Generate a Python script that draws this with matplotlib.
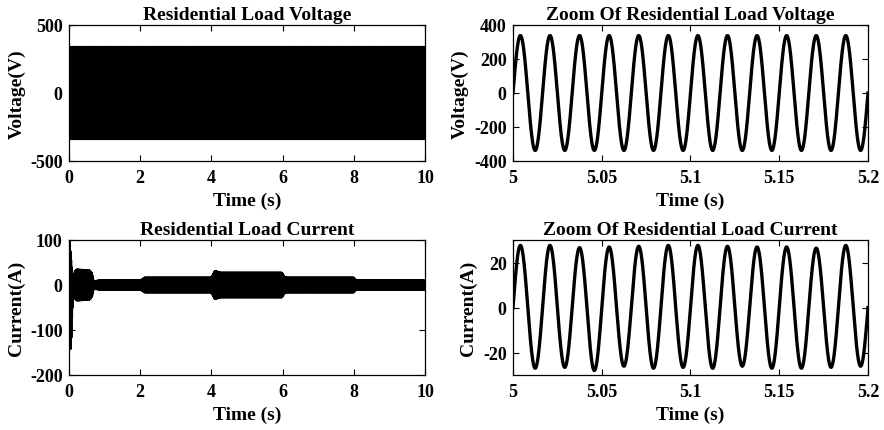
import numpy as np
import matplotlib
matplotlib.use('Agg')
import matplotlib.pyplot as plt

plt.rcParams['font.family'] = ['Liberation Serif', 'DejaVu Serif']
plt.rcParams['font.weight'] = 'bold'
plt.rcParams['axes.unicode_minus'] = False

# grid frequency of the load waveforms
f_grid = 60.0

# full run (0-10 s): envelope of the voltage
volt_env_t = [0.0, 10.0]
volt_env = [339.0, 339.0]

# full run (0-10 s): envelope of the current, positive and negative peaks
cur_env_t = [0.0, 0.02, 0.05, 0.08, 0.12, 0.17, 0.22, 0.4, 0.58, 0.64, 0.7, 0.78,
             0.9, 2.02, 2.12, 4.0, 4.1, 4.25, 5.98, 6.05, 6.12, 8.0, 8.07, 10.0]
cur_env_pos = [100, 95, 60, 30, 12, 30, 34, 33, 32, 26, 5, 9,
               10, 10, 16, 16, 31, 27, 27, 18, 16, 16, 9.5, 9.5]
cur_env_neg = [40, 90, 150, 70, 20, 30, 34, 33, 32, 26, 5, 9,
               10, 10, 16, 16, 31, 27, 27, 18, 16, 16, 9.5, 9.5]

# zoom window 5.0-5.2 s: peak of every cycle
zoom_t0, zoom_t1 = 5.0, 5.2
volt_peaks_pos = [338, 338, 338, 338, 338, 338, 338, 338, 338, 338, 338, 338]
volt_peaks_neg = [338, 338, 338, 338, 338, 338, 338, 338, 338, 338, 338, 338]
cur_peaks_pos = [27.6, 27.6, 26.6, 26.9, 27.2, 27.6, 27.6, 27.2, 26.9, 26.9, 26.4, 27.6]
cur_peaks_neg = [27.0, 26.6, 28.0, 26.1, 27.0, 26.6, 27.0, 26.1, 27.0, 27.0, 26.6, 26.1]

full_xticks = [0, 2, 4, 6, 8, 10]
zoom_xticks = [5, 5.05, 5.1, 5.15, 5.2]
zoom_xlabels = ['5', '5.05', '5.1', '5.15', '5.2']


def full_wave(env_t, env_pos, env_neg):
    t = np.linspace(0, 10, 72001)
    s = np.sin(2 * np.pi * f_grid * t)
    up = np.interp(t, env_t, env_pos)
    lo = np.interp(t, env_t, env_neg)
    return t, np.where(s > 0, up * s, lo * s)


def zoom_wave(pos, neg):
    t = np.linspace(zoom_t0, zoom_t1, 4801)
    ph = 2 * np.pi * f_grid * (t - zoom_t0)
    cyc = np.clip((ph // (2 * np.pi)).astype(int), 0, len(pos) - 1)
    s = np.sin(ph)
    amp = np.where(s > 0, np.array(pos)[cyc], np.array(neg)[cyc])
    return t, amp * s


fig = plt.figure(figsize=(8.84, 4.31), dpi=100)
W, H = 884.0, 431.0
boxes = {
    'tl': (69, 26, 425, 162),
    'tr': (513, 26, 868, 162),
    'bl': (69, 241, 425, 376),
    'br': (513, 241, 868, 376),
}
axs = {}
for k, (x0, y0, x1, y1) in boxes.items():
    axs[k] = fig.add_axes([x0 / W, 1 - y1 / H, (x1 - x0) / W, (y1 - y0) / H])


def style(ax, title, ylabel, ylab_x):
    ax.tick_params(direction='in', top=True, right=True, length=4, width=0.8,
                   labelsize=13)
    ax.tick_params(axis='x', pad=5.5)
    ax.tick_params(axis='y', pad=4.5)
    for sp in ax.spines.values():
        sp.set_linewidth(0.9)
    ax.set_title(title, fontsize=14, fontweight='bold', pad=4.5)
    ax.set_xlabel('Time (s)', fontsize=14, fontweight='bold')
    ax.set_ylabel(ylabel, fontsize=14, fontweight='bold')
    ax.xaxis.set_label_coords(0.5, -0.225)
    ax.yaxis.set_label_coords(ylab_x, 0.5)


# top left: full voltage
ax = axs['tl']
t, v = full_wave(volt_env_t, volt_env, volt_env)
ax.plot(t, v, color='k', lw=1.5)
ax.set_xlim(0, 10)
ax.set_ylim(-500, 500)
ax.set_xticks(full_xticks)
ax.set_yticks([-500, 0, 500])
style(ax, 'Residential Load Voltage', 'Voltage(V)', -0.12)

# bottom left: full current
ax = axs['bl']
t, i = full_wave(cur_env_t, cur_env_pos, cur_env_neg)
ax.plot(t, i, color='k', lw=1.8)
ax.set_xlim(0, 10)
ax.set_ylim(-200, 100)
ax.set_xticks(full_xticks)
ax.set_yticks([-200, -100, 0, 100])
style(ax, 'Residential Load Current', 'Current(A)', -0.123)

# top right: zoomed voltage
ax = axs['tr']
t, v = zoom_wave(volt_peaks_pos, volt_peaks_neg)
ax.plot(t, v, color='k', lw=2.4)
ax.set_xlim(zoom_t0, zoom_t1)
ax.set_ylim(-400, 400)
ax.set_xticks(zoom_xticks)
ax.set_xticklabels(zoom_xlabels)
ax.set_yticks([-400, -200, 0, 200, 400])
style(ax, 'Zoom Of Residential Load Voltage', 'Voltage(V)', -0.124)

# bottom right: zoomed current
ax = axs['br']
t, i = zoom_wave(cur_peaks_pos, cur_peaks_neg)
ax.plot(t, i, color='k', lw=2.4)
ax.set_xlim(zoom_t0, zoom_t1)
ax.set_ylim(-30, 30)
ax.set_xticks(zoom_xticks)
ax.set_xticklabels(zoom_xlabels)
ax.set_yticks([-20, 0, 20])
style(ax, 'Zoom Of Residential Load Current', 'Current(A)', -0.1)

fig.savefig('out.png', dpi=100)
